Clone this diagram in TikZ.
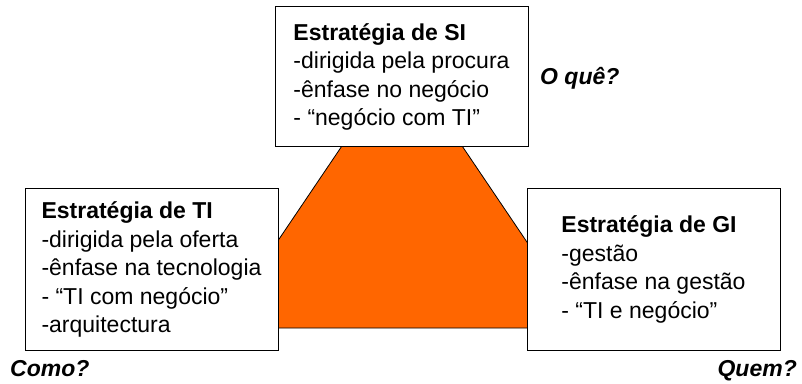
\documentclass[tikz,border=0pt]{standalone}
\usepackage{fontspec}
\setmainfont{Liberation Sans}
\definecolor{tri}{HTML}{FF6600}
\begin{document}
\begin{tikzpicture}[x=1pt,y=1pt,
  box/.style={draw=black,line width=1pt,fill=white,minimum width=253pt,inner sep=0pt,align=left,
    font=\fontsize{23}{28.5}\selectfont},
  qlabel/.style={inner sep=0pt,font=\fontsize{23}{28}\selectfont\bfseries\itshape}]
\useasboundingbox (0,0) rectangle (802,383);
\filldraw[fill=tri,draw=black,line width=0.8pt] (402,326) -- (585,55) -- (219,55) -- cycle;
\node[box,minimum height=140pt] (si) at (401.5,306) {\textbf{Estratégia de SI}\\-dirigida pela procura\\-ênfase no negócio\\- “negócio com TI”};
\node[box,minimum height=161pt] (ti) at (151.5,113.5) {\textbf{Estratégia de TI}\\-dirigida pela oferta\\-ênfase na tecnologia\\- “TI com negócio”\\-arquitectura};
\node[box,minimum height=161pt] (gi) at (653.5,113.5) {\textbf{Estratégia de GI}\\-gestão\\-ênfase na gestão\\- “TI e negócio”};
\node[qlabel,anchor=base west] (oque) at (540,298) {O quê?};
\node[qlabel,anchor=base west] (como) at (10,7) {Como?};
\node[qlabel,anchor=base east] (quem) at (797,7) {Quem?};
\end{tikzpicture}
\end{document}
